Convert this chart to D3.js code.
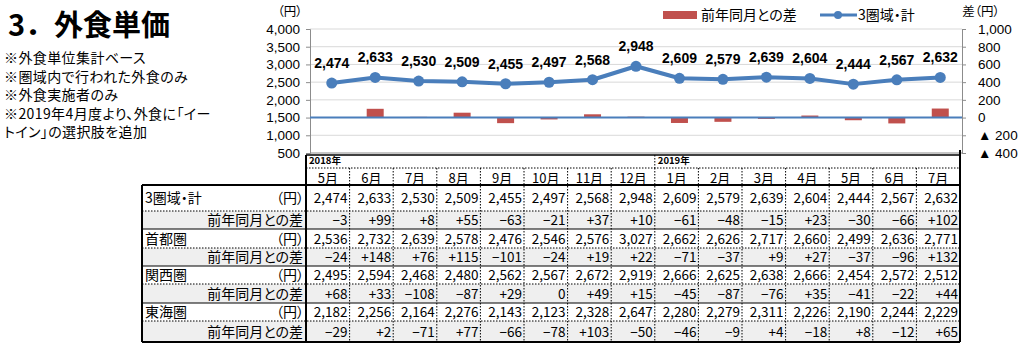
<!DOCTYPE html>
<html><head><meta charset="utf-8">
<script src="https://cdn.jsdelivr.net/npm/d3@7"></script>
<style>
body{margin:0;background:#fff;}
svg{display:block;font-family:"Noto Sans CJK JP","Noto Sans",sans-serif;}
svg text{font-feature-settings:"palt";}
svg text.nopalt{font-feature-settings:normal;}
</style></head><body>
<svg id="c" width="1024" height="350"></svg>
<script>
const months = ["5月","6月","7月","8月","9月","10月","11月","12月","1月","2月","3月","4月","5月","6月","7月"];
const yearLabels = [{i:0,label:"2018年"},{i:8,label:"2019年"}];
const total = [2474,2633,2530,2509,2455,2497,2568,2948,2609,2579,2639,2604,2444,2567,2632];
const totalDiff = [-3,99,8,55,-63,-21,37,10,-61,-48,-15,23,-30,-66,102];
const shutoken = [2536,2732,2639,2578,2476,2546,2576,3027,2662,2626,2717,2660,2499,2636,2771];
const shutokenDiff = [-24,148,76,115,-101,-24,19,22,-71,-37,9,27,-37,-96,132];
const kansai = [2495,2594,2468,2480,2562,2567,2672,2919,2666,2625,2638,2666,2454,2572,2512];
const kansaiDiff = [68,33,-108,-87,29,0,49,15,-45,-87,-76,35,-41,-22,44];
const tokai = [2182,2256,2164,2276,2143,2123,2328,2647,2280,2279,2311,2226,2190,2244,2229];
const tokaiDiff = [-29,2,-71,77,-66,-78,103,-50,-46,-9,4,-18,8,-12,65];
const leftTicks = [500,1000,1500,2000,2500,3000,3500,4000];
const rightTicks = [-400,-200,0,200,400,600,800,1000];
const notes = ["※外食単位集計ベース","※圏域内で行われた外食のみ","※外食実施者のみ","※2019年4月度より、外食に「イー","トイン」の選択肢を追加"];
const regions = [
  {name:"3圏域・計", vals: total, diffs: totalDiff},
  {name:"首都圏", vals: shutoken, diffs: shutokenDiff},
  {name:"関西圏", vals: kansai, diffs: kansaiDiff},
  {name:"東海圏", vals: tokai, diffs: tokaiDiff}
];

const svg = d3.select("#c");
const idx = d3.range(months.length);
const BLUE = "#4a7ebb", RED = "#c0504d";

// title & notes
svg.append("text").attr("class","nopalt").attr("x",8).attr("y",36).attr("font-size",29).attr("font-weight","bold").text("3．外食単価");
notes.forEach((t,i)=>{
  svg.append("text").attr("x",4).attr("y",[63,81.5,100,118.5,137][i]).attr("font-size",14).attr("letter-spacing",0.4).text(t);
});

// chart scales
const x = d3.scaleBand().domain(idx).range([310,962]).padding(0);
const yL = d3.scaleLinear().domain([500,4000]).range([153,29]);
const yR = d3.scaleLinear().domain([-400,1000]).range([153,29]);

// gridlines
svg.append("g").selectAll("line").data(leftTicks).join("line")
  .attr("x1",310).attr("x2",962).attr("y1",d=>yL(d)).attr("y2",d=>yL(d))
  .attr("stroke",d=>d===500?"#8c8c8c":"#d9d9d9").attr("stroke-width",1);

// axes
const axL = svg.append("g").attr("transform","translate(310,0)")
  .call(d3.axisLeft(yL).tickValues(leftTicks).tickSize(4).tickPadding(6).tickFormat(d3.format(",")));
const axR = svg.append("g").attr("transform","translate(962,0)")
  .call(d3.axisRight(yR).tickValues(rightTicks).tickSize(4).tickPadding(12)
    .tickFormat(d=> d<0 ? "▲ "+(-d) : d3.format(",")(d)));
[axL,axR].forEach(a=>{
  a.select(".domain").attr("stroke","#8c8c8c");
  a.selectAll(".tick line").attr("stroke","#8c8c8c");
  a.selectAll("text").attr("font-size",13.5).attr("fill","#000").attr("font-family","'Liberation Sans','Noto Sans',sans-serif");
});

// bars
svg.append("g").selectAll("rect").data(idx).join("rect")
  .attr("x",i=>x(i)+x.bandwidth()/2-8.5).attr("width",17)
  .attr("y",i=>Math.min(yR(totalDiff[i]),yR(0)))
  .attr("height",i=>Math.abs(yR(totalDiff[i])-yR(0)))
  .attr("fill",RED);

// zero line
svg.append("line").attr("x1",310).attr("x2",962).attr("y1",yR(0)).attr("y2",yR(0))
  .attr("stroke",BLUE).attr("stroke-width",2);

// line
const line = d3.line().x(i=>x(i)+x.bandwidth()/2).y(i=>yL(total[i]));
svg.append("path").datum(idx).attr("d",line).attr("fill","none").attr("stroke",BLUE).attr("stroke-width",4).attr("stroke-linejoin","round");
svg.append("g").selectAll("circle").data(idx).join("circle")
  .attr("cx",i=>x(i)+x.bandwidth()/2).attr("cy",i=>yL(total[i])).attr("r",5.5).attr("fill",BLUE);
svg.append("g").selectAll("text").data(idx).join("text")
  .attr("x",i=>x(i)+x.bandwidth()/2).attr("y",i=>yL(total[i])-15)
  .attr("text-anchor","middle").attr("font-size",14).attr("font-weight","bold")
  .attr("font-family","'Liberation Sans','Noto Sans',sans-serif")
  .text(i=>d3.format(",")(total[i]));

// unit labels
svg.append("text").attr("x",290).attr("y",16).attr("text-anchor","middle").attr("font-size",12.5).text("（円）");
svg.append("text").attr("x",981).attr("y",16).attr("text-anchor","middle").attr("font-size",12.5).text("差（円）");

// legend
svg.append("rect").attr("x",663).attr("y",11).attr("width",34).attr("height",8).attr("fill",RED);
svg.append("text").attr("x",701).attr("y",20).attr("font-size",14).text("前年同月との差");
svg.append("line").attr("x1",820).attr("x2",857).attr("y1",15).attr("y2",15).attr("stroke",BLUE).attr("stroke-width",3);
svg.append("circle").attr("cx",838).attr("cy",15).attr("r",4).attr("fill",BLUE);
svg.append("text").attr("x",858).attr("y",20).attr("font-size",14).text("3圏域・計");

// table
const tx = d3.scaleBand().domain(idx).range([306,960]).padding(0);
const T = svg.append("g");
const rowsY = [185,211,229,248,266,284,303,321,342];
const labL = 142, labR = 306, tR = 960;
for(let r=0;r<4;r++){
  T.append("rect").attr("x",labL).attr("y",rowsY[2*r+1]).attr("width",tR-labL).attr("height",rowsY[2*r+2]-rowsY[2*r+1]).attr("fill","#efefef");
}
T.append("line").attr("x1",labR).attr("x2",tR).attr("y1",155).attr("y2",155).attr("stroke","#000").attr("stroke-width",1.5);
T.append("line").attr("x1",labR).attr("x2",tR).attr("y1",168).attr("y2",168).attr("stroke","#000").attr("stroke-dasharray","1.5,1.5");
T.append("line").attr("x1",labR).attr("x2",labR).attr("y1",155).attr("y2",342).attr("stroke","#000").attr("stroke-width",2);
T.append("line").attr("x1",tR).attr("x2",tR).attr("y1",150).attr("y2",342).attr("stroke","#000").attr("stroke-width",2);
T.append("line").attr("x1",labL).attr("x2",labL).attr("y1",185).attr("y2",342).attr("stroke","#000").attr("stroke-width",2);
yearLabels.forEach(y=>{
  T.append("text").attr("x",tx(y.i)+3).attr("y",164).attr("font-size",9.5).attr("font-weight","bold").text(y.label);
  if(y.i>0) T.append("line").attr("x1",tx(y.i)).attr("x2",tx(y.i)).attr("y1",155).attr("y2",168).attr("stroke","#000").attr("stroke-dasharray","1.5,1.5");
});
T.selectAll("text.m").data(idx).join("text").attr("class","m")
  .attr("x",i=>tx(i)+tx.bandwidth()/2).attr("y",183).attr("text-anchor","middle").attr("font-size",13).text(i=>months[i]);
idx.slice(1).forEach(i=>{
  T.append("line").attr("x1",tx(i)).attr("x2",tx(i)).attr("y1",168).attr("y2",342).attr("stroke","#000").attr("stroke-dasharray","1.5,1.5");
});
rowsY.forEach((y,k)=>{
  const solid = k%2===0;
  const w = (k===0||k===8)?2:1;
  T.append("line").attr("x1",labL).attr("x2",tR).attr("y1",y).attr("y2",y)
    .attr("stroke","#000").attr("stroke-width",solid?w:1).attr("stroke-dasharray",solid?null:"1.5,1.5");
});
const fmtDiff = v => v>0 ? "+"+v : (v<0 ? "−"+(-v) : "0");
regions.forEach((rg,r)=>{
  const y1 = rowsY[2*r], y2 = rowsY[2*r+1], y3 = rowsY[2*r+2];
  const m1 = (y1+y2)/2+5, m2 = (y2+y3)/2+5;
  T.append("text").attr("x",labL+3).attr("y",m1).attr("font-size",14).text(rg.name);
  T.append("text").attr("x",labR-2).attr("y",m1).attr("text-anchor","end").attr("font-size",14).text("（円）");
  T.append("text").attr("x",labR-3).attr("y",m2).attr("text-anchor","end").attr("font-size",14).text("前年同月との差");
  idx.forEach(i=>{
    T.append("text").attr("x",tx(i)+tx.bandwidth()-2).attr("y",m1).attr("text-anchor","end").attr("font-size",13.5).text(d3.format(",")(rg.vals[i]));
    T.append("text").attr("x",tx(i)+tx.bandwidth()-2).attr("y",m2).attr("text-anchor","end").attr("font-size",13.5).text(fmtDiff(rg.diffs[i]));
  });
});
</script>
</body></html>
